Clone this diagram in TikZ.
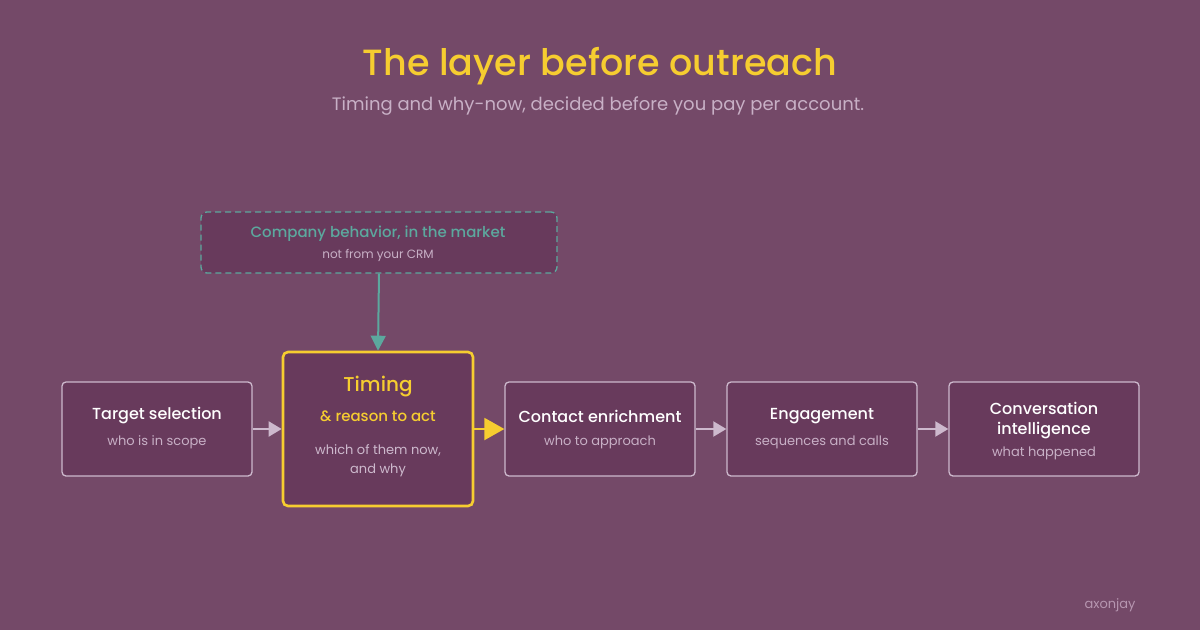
\documentclass[tikz,border=0pt]{standalone}
\usepackage{fontspec}
\setmainfont{Poppins}
\newfontfamily\pmed{Poppins Medium}
\usetikzlibrary{arrows.meta}
\definecolor{bg}{RGB}{116,73,104}
\definecolor{boxfill}{RGB}{104,58,92}
\definecolor{boxline}{RGB}{205,185,205}
\definecolor{gold}{RGB}{246,205,48}
\definecolor{teal}{RGB}{92,168,158}
\definecolor{soft}{RGB}{200,176,198}
\definecolor{mark}{RGB}{182,150,176}
\tikzset{
  stagebox/.style={draw=boxline, line width=1.3pt, fill=boxfill, rounded corners=4pt, minimum width=190pt, minimum height=94pt, inner sep=0pt},
  keybox/.style={draw=gold, line width=2.6pt, fill=boxfill, rounded corners=5pt, minimum width=190pt, minimum height=154pt, inner sep=0pt},
  srcbox/.style={draw=teal, line width=1.3pt, dash pattern=on 6pt off 4pt, fill=boxfill, rounded corners=6pt, minimum width=356pt, minimum height=61pt, inner sep=0pt},
  flow/.style={draw=boxline, line width=2pt, -{Triangle[length=13pt,width=15pt]}},
  heading/.style={text=white, font=\fontsize{16}{19}\pmed},
  sub/.style={text=soft, font=\fontsize{13}{16}\selectfont},
}
\begin{document}
\begin{tikzpicture}[x=1pt,y=-1pt]
\fill[bg] (0,0) rectangle (1200,630);
\useasboundingbox (0,0) rectangle (1200,630);
\node[text=gold, font=\fontsize{36.5}{42}\pmed] (title) at (600,66) {The layer before outreach};
\node[text=soft, font=\fontsize{18}{22}\selectfont] (subtitle) at (598,106) {Timing and why-now, decided before you pay per account.};

\node[srcbox] (src) at (379,242.5) {};
\node[text=teal, font=\fontsize{15}{18}\pmed] (srct) at (378,233.5) {Company behavior, in the market};
\node[text=soft, font=\fontsize{12}{14}\selectfont] (srcs) at (378,255.5) {not from your CRM};

\node[stagebox] (s1) at (157,429) {};
\node[keybox] (s2) at (378,429) {};
\node[stagebox] (s3) at (600,429) {};
\node[stagebox] (s4) at (822,429) {};
\node[stagebox] (s5) at (1044,429) {};

\node[heading] at (157,416) {Target selection};
\node[sub] at (157,442.5) {who is in scope};

\node[text=gold, font=\fontsize{20}{24}\pmed] at (378,387) {Timing};
\node[text=gold, font=\fontsize{15}{18}\pmed] at (378,416) {\& reason to act};
\node[sub, text=boxline] at (378,450.5) {which of them now,};
\node[sub, text=boxline] at (378,470.5) {and why};

\node[heading] at (600,416) {Contact enrichment};
\node[sub] at (600,442.5) {who to approach};

\node[heading] at (822,416) {Engagement};
\node[sub] at (822,442.5) {sequences and calls};

\node[heading] at (1044,408) {Conversation};
\node[heading] at (1044,430.5) {intelligence};
\node[sub] at (1044,453.5) {what happened};

\draw[draw=teal, line width=2pt, -{Triangle[length=15pt,width=15pt]}] (src.south) -- (s2.north);
\draw[flow] (s1.east) -- (s2.west);
\draw[draw=gold, line width=2pt, -{Triangle[length=20pt,width=22pt]}] (s2.east) -- (s3.west);
\draw[flow] (s3.east) -- (s4.west);
\draw[flow] (s4.east) -- (s5.west);

\node[text=mark, font=\fontsize{13}{16}\selectfont] (brand) at (1110,605) {axonjay};
\end{tikzpicture}
\end{document}
